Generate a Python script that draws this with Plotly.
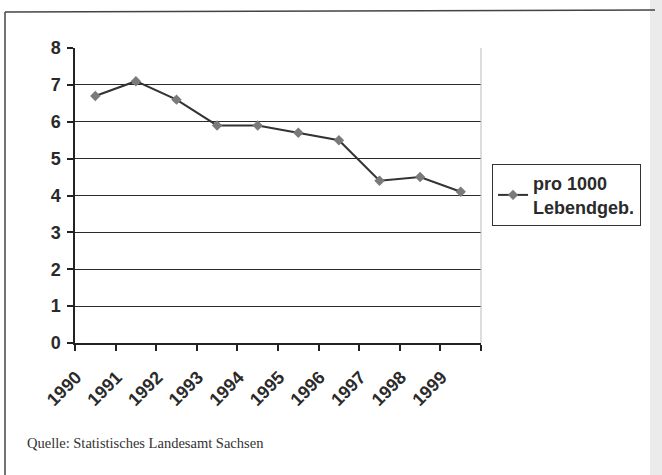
import plotly.graph_objects as go

years = ["1990", "1991", "1992", "1993", "1994", "1995", "1996", "1997", "1998", "1999"]
values = [6.7, 7.1, 6.6, 5.9, 5.9, 5.7, 5.5, 4.4, 4.5, 4.1]
series_name = "pro 1000<br>Lebendgeb."
source_text = "Quelle: Statistisches Landesamt Sachsen"

W, H = 662, 475
L, R, T, B = 75, 181, 48, 132
pw, ph = W - L - R, H - T - B

def px(x):
    return (x - L) / pw

def py(y):
    return (H - B - y) / ph

xs = list(range(len(years)))

fig = go.Figure()
fig.add_trace(go.Scatter(
    x=xs, y=values, name=series_name, mode="lines+markers",
    line=dict(color="#333333", width=2),
    marker=dict(symbol="diamond", size=8, color="#7a7a7a"),
))

fig.update_layout(
    width=W, height=H,
    margin=dict(l=L, r=R, t=T, b=B),
    paper_bgcolor="white", plot_bgcolor="white",
    font=dict(family="Liberation Sans, Arial, sans-serif", color="#222222"),
    showlegend=True,
    legend=dict(
        x=px(492), y=py(195), xanchor="left", yanchor="middle",
        bordercolor="#333333", borderwidth=1, bgcolor="white",
        font=dict(size=18, family="Liberation Sans, Arial, sans-serif", color="#2a2a2a", weight="bold"),
        itemwidth=30, tracegroupgap=0,
    ),
    xaxis=dict(
        range=[-0.5, len(years) - 0.5],
        automargin=False,
        tickmode="array",
        tickvals=[i - 0.47 for i in xs],
        ticktext=years,
        tickangle=-45,
        ticks="",
        ticklabelstandoff=15,
        showgrid=False, zeroline=False,
        showline=True, linecolor="#222222", linewidth=1.5,
        tickfont=dict(size=18, color="#2a2a2a", weight="bold"),
        minor=dict(tickmode="linear", tick0=-0.5, dtick=1, ticks="outside",
                   ticklen=6, tickcolor="#222222", tickwidth=1.5, showgrid=False),
    ),
    yaxis=dict(
        range=[0, 8], dtick=1, tick0=0,
        automargin=False,
        ticks="outside", ticklen=6, tickcolor="#222222", tickwidth=1.5,
        ticklabelstandoff=3,
        showgrid=True, gridcolor="#2a2a2a", gridwidth=1,
        zeroline=False,
        showline=True, linecolor="#222222", linewidth=1.5,
        tickfont=dict(size=18, color="#2a2a2a", weight="bold"),
    ),
    shapes=[
        dict(type="line", xref="paper", yref="paper", x0=1, x1=1, y0=0, y1=1,
             line=dict(color="#bbbbbb", width=1)),
        dict(type="rect", xref="paper", yref="paper", x0=px(650), x1=px(662), y0=py(0), y1=py(475),
             fillcolor="#ebebeb", line=dict(width=0), layer="below"),
        dict(type="line", xref="paper", yref="paper", x0=px(5), x1=px(655), y0=py(12), y1=py(10),
             line=dict(color="#444444", width=1.5)),
        dict(type="line", xref="paper", yref="paper", x0=px(5), x1=px(5), y0=py(12), y1=py(475),
             line=dict(color="#444444", width=1.5)),
    ],
    annotations=[
        dict(text=source_text, xref="paper", yref="paper", x=px(25), y=py(443),
             xanchor="left", yanchor="middle", showarrow=False,
             font=dict(family="Liberation Serif, Times New Roman, serif", size=14.5, color="#333333")),
    ],
)

fig.write_html("out.html",
               config={"displayModeBar": False},
               post_script="document.body.style.margin='0';document.body.style.overflow='hidden';")
